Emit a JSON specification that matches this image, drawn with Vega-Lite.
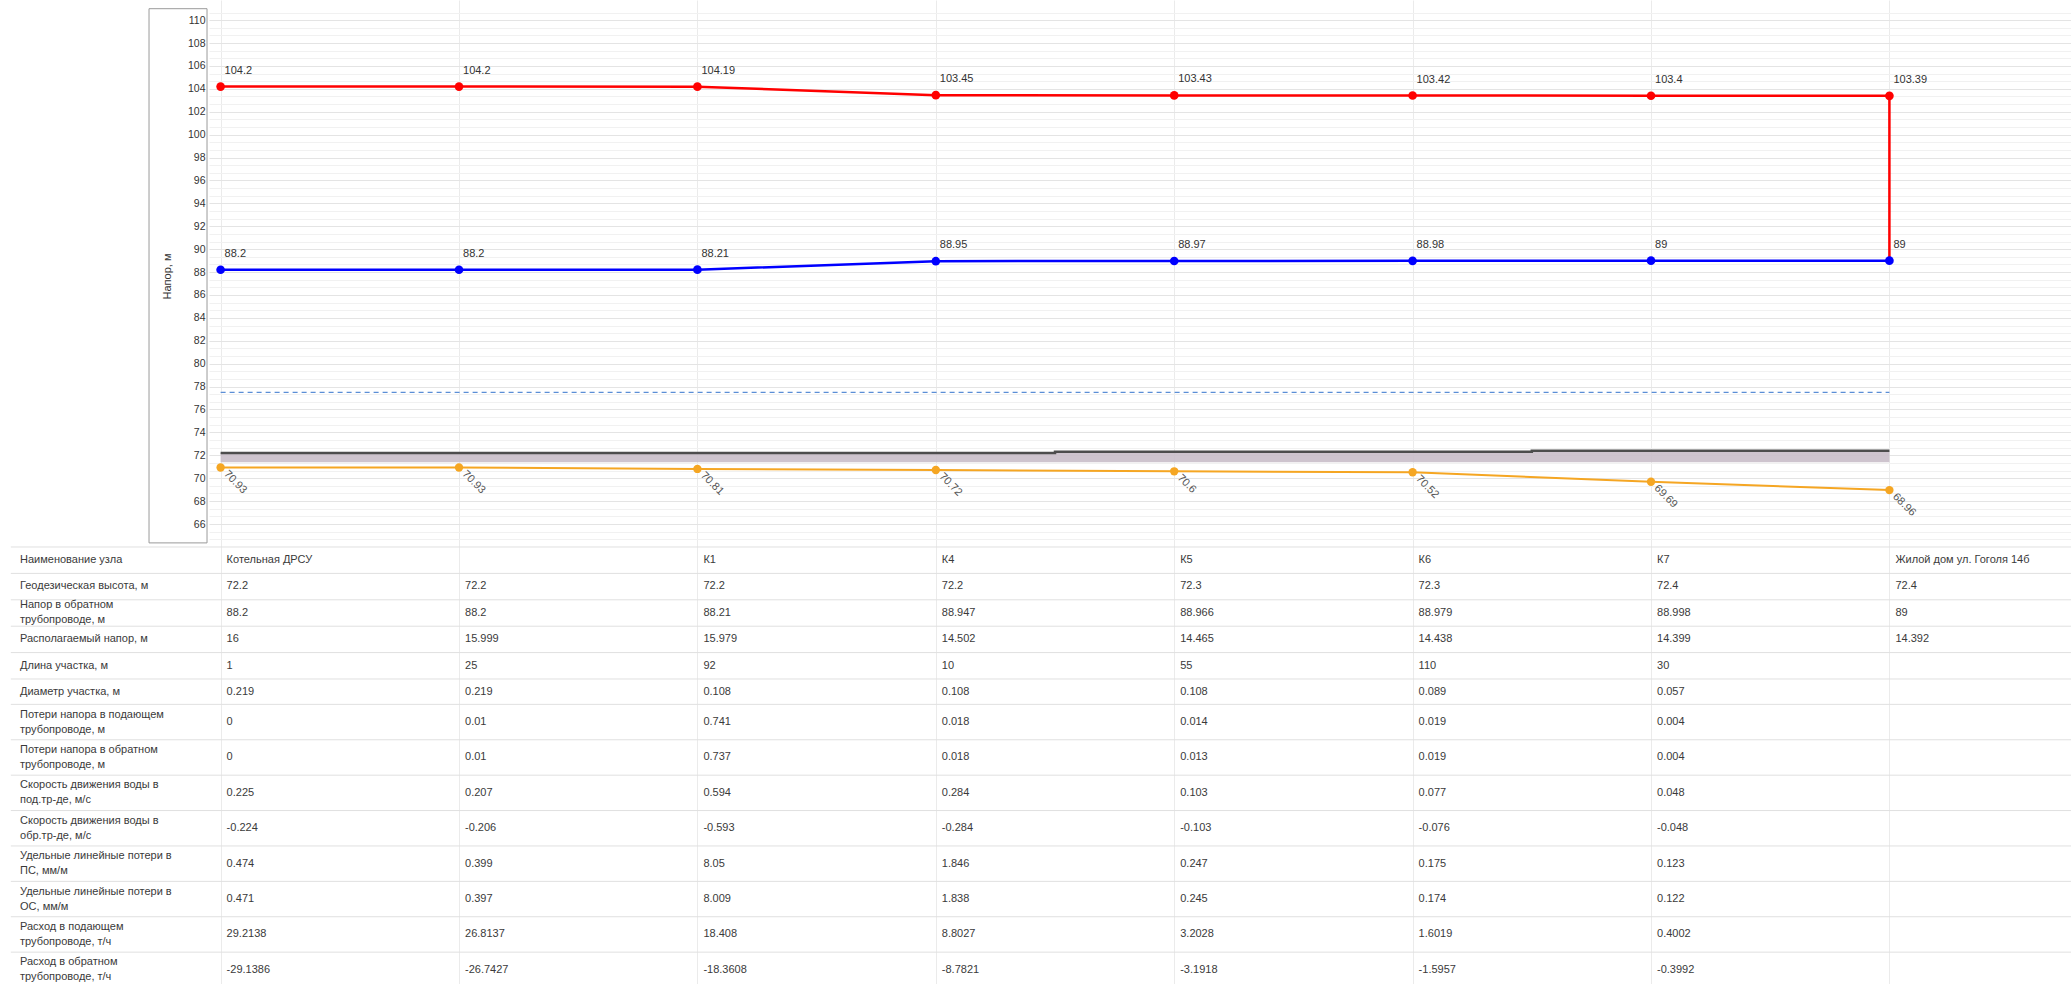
{
  "$schema": "https://vega.github.io/schema/vega-lite/v6.json",
  "width": 1862,
  "height": 984,
  "autosize": {"type": "none"},
  "padding": {"left": 209, "top": 0, "right": 0, "bottom": 0},
  "background": "white",
  "config": {
    "view": {"stroke": null},
    "font": "Liberation Sans",
    "axisX": {"grid": true, "gridColor": "#ebebeb", "labels": false, "ticks": false, "domain": false, "title": null},
    "text": {"font": "Liberation Sans", "fontSize": 11, "color": "#3a3a3a"}
  },
  "datasets": {
    "nodes": [
      {"i": 0, "sup": 104.2, "ret": 88.2, "geo": 72.2, "pipe": 70.93, "st": 77.5},
      {"i": 1, "sup": 104.2, "ret": 88.2, "geo": 72.2, "pipe": 70.93, "st": 77.5},
      {"i": 2, "sup": 104.19, "ret": 88.21, "geo": 72.2, "pipe": 70.81, "st": 77.5},
      {"i": 3, "sup": 103.45, "ret": 88.95, "geo": 72.2, "pipe": 70.72, "st": 77.5},
      {"i": 4, "sup": 103.43, "ret": 88.97, "geo": 72.3, "pipe": 70.6, "st": 77.5},
      {"i": 5, "sup": 103.42, "ret": 88.98, "geo": 72.3, "pipe": 70.52, "st": 77.5},
      {"i": 6, "sup": 103.4, "ret": 89, "geo": 72.4, "pipe": 69.69, "st": 77.5},
      {"i": 7, "sup": 103.39, "ret": 89, "geo": 72.4, "pipe": 68.96, "st": 77.5}
    ],
    "supply": [
      {"i": 0, "v": 104.2, "s": 0},
      {"i": 1, "v": 104.2, "s": 1},
      {"i": 2, "v": 104.19, "s": 2},
      {"i": 3, "v": 103.45, "s": 3},
      {"i": 4, "v": 103.43, "s": 4},
      {"i": 5, "v": 103.42, "s": 5},
      {"i": 6, "v": 103.4, "s": 6},
      {"i": 7, "v": 103.39, "s": 7},
      {"i": 7, "v": 89, "s": 8}
    ],
    "rows": [
      {"r": 0, "label": "Наименование узла"},
      {"r": 1, "label": "Геодезическая высота, м"},
      {"r": 2, "label": "Напор в обратном\nтрубопроводе, м"},
      {"r": 3, "label": "Располагаемый напор, м"},
      {"r": 4, "label": "Длина участка, м"},
      {"r": 5, "label": "Диаметр участка, м"},
      {"r": 6, "label": "Потери напора в подающем\nтрубопроводе, м"},
      {"r": 7, "label": "Потери напора в обратном\nтрубопроводе, м"},
      {"r": 8, "label": "Скорость движения воды в\nпод.тр-де, м/с"},
      {"r": 9, "label": "Скорость движения воды в\nобр.тр-де, м/с"},
      {"r": 10, "label": "Удельные линейные потери в\nПС, мм/м"},
      {"r": 11, "label": "Удельные линейные потери в\nОС, мм/м"},
      {"r": 12, "label": "Расход в подающем\nтрубопроводе, т/ч"},
      {"r": 13, "label": "Расход в обратном\nтрубопроводе, т/ч"}
    ],
    "table": [
      {"r": 0, "c": 0, "t": "Котельная ДРСУ"}, {"r": 0, "c": 2, "t": "К1"}, {"r": 0, "c": 3, "t": "К4"}, {"r": 0, "c": 4, "t": "К5"}, {"r": 0, "c": 5, "t": "К6"}, {"r": 0, "c": 6, "t": "К7"}, {"r": 0, "c": 7, "t": "Жилой дом ул. Гоголя 14б"},
      {"r": 1, "c": 0, "t": "72.2"}, {"r": 1, "c": 1, "t": "72.2"}, {"r": 1, "c": 2, "t": "72.2"}, {"r": 1, "c": 3, "t": "72.2"}, {"r": 1, "c": 4, "t": "72.3"}, {"r": 1, "c": 5, "t": "72.3"}, {"r": 1, "c": 6, "t": "72.4"}, {"r": 1, "c": 7, "t": "72.4"},
      {"r": 2, "c": 0, "t": "88.2"}, {"r": 2, "c": 1, "t": "88.2"}, {"r": 2, "c": 2, "t": "88.21"}, {"r": 2, "c": 3, "t": "88.947"}, {"r": 2, "c": 4, "t": "88.966"}, {"r": 2, "c": 5, "t": "88.979"}, {"r": 2, "c": 6, "t": "88.998"}, {"r": 2, "c": 7, "t": "89"},
      {"r": 3, "c": 0, "t": "16"}, {"r": 3, "c": 1, "t": "15.999"}, {"r": 3, "c": 2, "t": "15.979"}, {"r": 3, "c": 3, "t": "14.502"}, {"r": 3, "c": 4, "t": "14.465"}, {"r": 3, "c": 5, "t": "14.438"}, {"r": 3, "c": 6, "t": "14.399"}, {"r": 3, "c": 7, "t": "14.392"},
      {"r": 4, "c": 0, "t": "1"}, {"r": 4, "c": 1, "t": "25"}, {"r": 4, "c": 2, "t": "92"}, {"r": 4, "c": 3, "t": "10"}, {"r": 4, "c": 4, "t": "55"}, {"r": 4, "c": 5, "t": "110"}, {"r": 4, "c": 6, "t": "30"},
      {"r": 5, "c": 0, "t": "0.219"}, {"r": 5, "c": 1, "t": "0.219"}, {"r": 5, "c": 2, "t": "0.108"}, {"r": 5, "c": 3, "t": "0.108"}, {"r": 5, "c": 4, "t": "0.108"}, {"r": 5, "c": 5, "t": "0.089"}, {"r": 5, "c": 6, "t": "0.057"},
      {"r": 6, "c": 0, "t": "0"}, {"r": 6, "c": 1, "t": "0.01"}, {"r": 6, "c": 2, "t": "0.741"}, {"r": 6, "c": 3, "t": "0.018"}, {"r": 6, "c": 4, "t": "0.014"}, {"r": 6, "c": 5, "t": "0.019"}, {"r": 6, "c": 6, "t": "0.004"},
      {"r": 7, "c": 0, "t": "0"}, {"r": 7, "c": 1, "t": "0.01"}, {"r": 7, "c": 2, "t": "0.737"}, {"r": 7, "c": 3, "t": "0.018"}, {"r": 7, "c": 4, "t": "0.013"}, {"r": 7, "c": 5, "t": "0.019"}, {"r": 7, "c": 6, "t": "0.004"},
      {"r": 8, "c": 0, "t": "0.225"}, {"r": 8, "c": 1, "t": "0.207"}, {"r": 8, "c": 2, "t": "0.594"}, {"r": 8, "c": 3, "t": "0.284"}, {"r": 8, "c": 4, "t": "0.103"}, {"r": 8, "c": 5, "t": "0.077"}, {"r": 8, "c": 6, "t": "0.048"},
      {"r": 9, "c": 0, "t": "-0.224"}, {"r": 9, "c": 1, "t": "-0.206"}, {"r": 9, "c": 2, "t": "-0.593"}, {"r": 9, "c": 3, "t": "-0.284"}, {"r": 9, "c": 4, "t": "-0.103"}, {"r": 9, "c": 5, "t": "-0.076"}, {"r": 9, "c": 6, "t": "-0.048"},
      {"r": 10, "c": 0, "t": "0.474"}, {"r": 10, "c": 1, "t": "0.399"}, {"r": 10, "c": 2, "t": "8.05"}, {"r": 10, "c": 3, "t": "1.846"}, {"r": 10, "c": 4, "t": "0.247"}, {"r": 10, "c": 5, "t": "0.175"}, {"r": 10, "c": 6, "t": "0.123"},
      {"r": 11, "c": 0, "t": "0.471"}, {"r": 11, "c": 1, "t": "0.397"}, {"r": 11, "c": 2, "t": "8.009"}, {"r": 11, "c": 3, "t": "1.838"}, {"r": 11, "c": 4, "t": "0.245"}, {"r": 11, "c": 5, "t": "0.174"}, {"r": 11, "c": 6, "t": "0.122"},
      {"r": 12, "c": 0, "t": "29.2138"}, {"r": 12, "c": 1, "t": "26.8137"}, {"r": 12, "c": 2, "t": "18.408"}, {"r": 12, "c": 3, "t": "8.8027"}, {"r": 12, "c": 4, "t": "3.2028"}, {"r": 12, "c": 5, "t": "1.6019"}, {"r": 12, "c": 6, "t": "0.4002"},
      {"r": 13, "c": 0, "t": "-29.1386"}, {"r": 13, "c": 1, "t": "-26.7427"}, {"r": 13, "c": 2, "t": "-18.3608"}, {"r": 13, "c": 3, "t": "-8.7821"}, {"r": 13, "c": 4, "t": "-3.1918"}, {"r": 13, "c": 5, "t": "-1.5957"}, {"r": 13, "c": 6, "t": "-0.3992"}
    ]
  },
  "layer": [
    {
      "layer": [
        {
          "data": {"values": [{}]},
          "mark": {"type": "rect", "fill": "white", "fillOpacity": 0, "stroke": "#9a9a9a", "strokeWidth": 1},
          "encoding": {
            "x": {"datum": -0.3003, "type": "quantitative", "scale": {"domain": [-0.0487, 7.7617], "nice": false, "zero": false}, "axis": {"values": [0, 1, 2, 3, 4, 5, 6, 7], "tickCount": 100}},
            "x2": {"datum": -0.057},
            "y": {
              "datum": 111, "type": "quantitative",
              "scale": {"domain": [25.83, 111.76], "nice": false, "zero": false},
              "axis": {
                "title": "Напор, м", "titleX": -42, "titleY": 276, "titleAlign": "center", "titleBaseline": "middle",
                "titleFontWeight": "normal", "titleFontSize": 11, "titleColor": "#333",
                "domain": false, "ticks": false, "labelPadding": 4, "labelFontSize": 10.5, "labelColor": "#333", "format": ".0f",
                "labelOverlap": false, "labelBound": false, "tickCount": 1000,
                "labelExpr": "abs(datum.value - round(datum.value)) < 0.01 ? datum.label : ''",
                "grid": true,
                "gridColor": {"condition": {"test": "abs(datum.value - round(datum.value)) < 0.01", "value": "#e4e4e4"}, "value": "#f1f1f1"},
                "values": [64.6667, 65.3333, 66, 66.6667, 67.3333, 68, 68.6667, 69.3333, 70, 70.6667, 71.3333, 72, 72.6667, 73.3333, 74, 74.6667, 75.3333, 76, 76.6667, 77.3333, 78, 78.6667, 79.3333, 80, 80.6667, 81.3333, 82, 82.6667, 83.3333, 84, 84.6667, 85.3333, 86, 86.6667, 87.3333, 88, 88.6667, 89.3333, 90, 90.6667, 91.3333, 92, 92.6667, 93.3333, 94, 94.6667, 95.3333, 96, 96.6667, 97.3333, 98, 98.6667, 99.3333, 100, 100.6667, 101.3333, 102, 102.6667, 103.3333, 104, 104.6667, 105.3333, 106, 106.6667, 107.3333, 108, 108.6667, 109.3333, 110, 110.6667]
              }
            },
            "y2": {"datum": 64.35}
          }
        },
        {
          "data": {"name": "nodes"},
          "mark": {"type": "area", "interpolate": "step", "color": "#c9bec9", "opacity": 0.9},
          "encoding": {
            "x": {"field": "i", "type": "quantitative"},
            "y": {"field": "geo", "type": "quantitative"},
            "y2": {"datum": 71.4}
          }
        },
        {
          "data": {"name": "nodes"},
          "mark": {"type": "line", "interpolate": "step", "color": "#4d4d4d", "strokeWidth": 2.5},
          "encoding": {
            "x": {"field": "i", "type": "quantitative"},
            "y": {"field": "geo", "type": "quantitative"}
          }
        },
        {
          "data": {"name": "nodes"},
          "mark": {"type": "line", "color": "#5b8ed6", "strokeWidth": 1.3, "strokeDash": [5, 4]},
          "encoding": {
            "x": {"field": "i", "type": "quantitative"},
            "y": {"field": "st", "type": "quantitative"}
          }
        },
        {
          "data": {"name": "nodes"},
          "mark": {"type": "line", "color": "#f5a623", "strokeWidth": 2},
          "encoding": {
            "x": {"field": "i", "type": "quantitative"},
            "y": {"field": "pipe", "type": "quantitative"}
          }
        },
        {
          "data": {"name": "nodes"},
          "mark": {"type": "point", "filled": true, "color": "#f5a623", "size": 70, "opacity": 1},
          "encoding": {
            "x": {"field": "i", "type": "quantitative"},
            "y": {"field": "pipe", "type": "quantitative"}
          }
        },
        {
          "data": {"name": "nodes"},
          "mark": {"type": "text", "angle": 45, "align": "left", "baseline": "middle", "dx": 7, "dy": 0, "color": "#555", "fontSize": 11},
          "encoding": {
            "x": {"field": "i", "type": "quantitative"},
            "y": {"field": "pipe", "type": "quantitative"},
            "text": {"field": "pipe", "type": "nominal"}
          }
        },
        {
          "data": {"name": "supply"},
          "mark": {"type": "line", "color": "#ff0000", "strokeWidth": 2.5},
          "encoding": {
            "x": {"field": "i", "type": "quantitative"},
            "y": {"field": "v", "type": "quantitative"},
            "order": {"field": "s", "type": "quantitative"}
          }
        },
        {
          "data": {"name": "nodes"},
          "mark": {"type": "line", "color": "#0000ff", "strokeWidth": 2.5},
          "encoding": {
            "x": {"field": "i", "type": "quantitative"},
            "y": {"field": "ret", "type": "quantitative"}
          }
        },
        {
          "data": {"name": "nodes"},
          "mark": {"type": "point", "filled": true, "color": "#ff0000", "size": 75, "opacity": 1},
          "encoding": {
            "x": {"field": "i", "type": "quantitative"},
            "y": {"field": "sup", "type": "quantitative"}
          }
        },
        {
          "data": {"name": "nodes"},
          "mark": {"type": "point", "filled": true, "color": "#0000ff", "size": 75, "opacity": 1},
          "encoding": {
            "x": {"field": "i", "type": "quantitative"},
            "y": {"field": "ret", "type": "quantitative"}
          }
        },
        {
          "data": {"name": "nodes"},
          "mark": {"type": "text", "align": "left", "baseline": "middle", "dx": 4, "dy": -16, "color": "#333", "fontSize": 11},
          "encoding": {
            "x": {"field": "i", "type": "quantitative"},
            "y": {"field": "sup", "type": "quantitative"},
            "text": {"field": "sup", "type": "nominal"}
          }
        },
        {
          "data": {"name": "nodes"},
          "mark": {"type": "text", "align": "left", "baseline": "middle", "dx": 4, "dy": -16, "color": "#333", "fontSize": 11},
          "encoding": {
            "x": {"field": "i", "type": "quantitative"},
            "y": {"field": "ret", "type": "quantitative"},
            "text": {"field": "ret", "type": "nominal"}
          }
        }
      ]
    },
    {
      "layer": [
        {
          "data": {"name": "rows"},
          "transform": [{"filter": "datum.r <= 5"}],
          "mark": {"type": "rule", "color": "#e0e0e0", "strokeWidth": 1, "yOffset": -13},
          "encoding": {
            "x": {"datum": -0.88, "type": "quantitative"},
            "x2": {"datum": 7.7617},
            "y": {"field": "r", "type": "quantitative", "scale": {"domain": [-21.21, 16.06], "reverse": true, "nice": false, "zero": false}, "axis": null}
          }
        },
        {
          "data": {"name": "rows"},
          "transform": [{"filter": "datum.r <= 5 && indexof(datum.label, '\\n') < 0"}],
          "mark": {"type": "text", "align": "left", "baseline": "middle"},
          "encoding": {
            "x": {"datum": -0.8414, "type": "quantitative"},
            "y": {"field": "r", "type": "quantitative"},
            "text": {"field": "label"}
          }
        },
        {
          "data": {"name": "rows"},
          "transform": [{"filter": "datum.r <= 5 && indexof(datum.label, '\\n') >= 0"}],
          "mark": {"type": "text", "align": "left", "baseline": "middle", "lineBreak": "\n", "lineHeight": 15, "dy": -7.5},
          "encoding": {
            "x": {"datum": -0.8414, "type": "quantitative"},
            "y": {"field": "r", "type": "quantitative"},
            "text": {"field": "label"}
          }
        },
        {
          "data": {"name": "table"},
          "transform": [{"filter": "datum.r <= 5"}],
          "mark": {"type": "text", "align": "left", "baseline": "middle", "dx": 6},
          "encoding": {
            "x": {"field": "c", "type": "quantitative"},
            "y": {"field": "r", "type": "quantitative"},
            "text": {"field": "t"}
          }
        }
      ]
    },
    {
      "layer": [
        {
          "data": {"name": "rows"},
          "transform": [{"filter": "datum.r >= 6"}],
          "mark": {"type": "rule", "color": "#e0e0e0", "strokeWidth": 1, "yOffset": -17.7},
          "encoding": {
            "x": {"datum": -0.88, "type": "quantitative"},
            "x2": {"datum": 7.7617},
            "y": {"field": "r", "type": "quantitative", "scale": {"domain": [-14.4, 13.4], "reverse": true, "nice": false, "zero": false}, "axis": null}
          }
        },
        {
          "data": {"name": "rows"},
          "transform": [{"filter": "datum.r >= 6"}],
          "mark": {"type": "text", "align": "left", "baseline": "middle", "lineBreak": "\n", "lineHeight": 15, "dy": -7.5},
          "encoding": {
            "x": {"datum": -0.8414, "type": "quantitative"},
            "y": {"field": "r", "type": "quantitative"},
            "text": {"field": "label"}
          }
        },
        {
          "data": {"name": "table"},
          "transform": [{"filter": "datum.r >= 6"}],
          "mark": {"type": "text", "align": "left", "baseline": "middle", "dx": 6},
          "encoding": {
            "x": {"field": "c", "type": "quantitative"},
            "y": {"field": "r", "type": "quantitative"},
            "text": {"field": "t"}
          }
        }
      ]
    }
  ],
  "resolve": {"scale": {"y": "independent"}, "axis": {"y": "independent"}}
}
